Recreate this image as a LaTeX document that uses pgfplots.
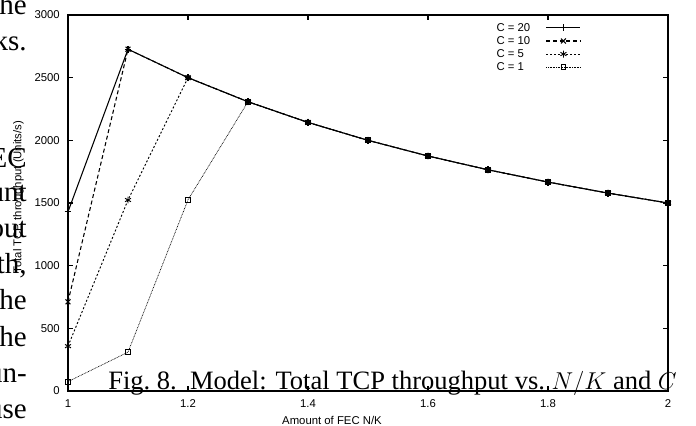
\documentclass[border=0pt]{standalone}
\usepackage{graphicx}
\usepackage{fontspec}
\setmainfont{Liberation Sans}
\newfontfamily\serif{Liberation Serif}
\usepackage{pgfplots}
\usepackage{pgfplotstable}
\pgfplotsset{compat=1.18}

\pgfplotstableread{
x   c20  c10  c5   c1
1.0 1430 712  358  75
1.1 2727 2727 1524 310
1.2 2500 2500 2500 1525
1.3 2308 2308 2308 2308
1.4 2143 2143 2143 2143
1.5 2000 2000 2000 2000
1.6 1875 1875 1875 1875
1.7 1765 1765 1765 1765
1.8 1667 1667 1667 1667
1.9 1579 1579 1579 1579
2.0 1500 1500 1500 1500
}\datatable

\newcommand\capmath[1]{\scalebox{0.88}{$#1$}}

\begin{document}
\begin{tikzpicture}
\useasboundingbox (0,0) rectangle (522pt,318.75pt);
\begin{axis}[
  at={(51pt,25.5pt)}, anchor=south west,
  scale only axis, width=450pt, height=282pt,
  xmin=1, xmax=2, ymin=0, ymax=3000,
  xtick={1,1.2,1.4,1.6,1.8,2},
  ytick={0,500,1000,1500,2000,2500,3000},
  scaled ticks=false,
  /pgf/number format/1000 sep={},
  /pgf/number format/assume math mode=true,
  tick label style={font=\fontsize{8.5}{10}\selectfont},
  yticklabel style={inner sep=0pt, anchor=east, xshift=-6pt},
  xticklabel style={inner sep=0pt, anchor=north, yshift=-6pt},
  major tick length=3.75pt,
  every tick/.style={black, line width=0.8pt},
  axis line style={line width=1pt},
  xlabel={Amount of FEC N/K},
  ylabel={Total TCP throughput (Units/s)},
  label style={font=\fontsize{8.5}{10}\selectfont},
  x label style={at={(axis description cs:0.44,-0.0771)}, anchor=center},
  y label style={at={(axis description cs:-0.0825,0.516)}, anchor=center},
  legend plot pos=right,
  legend cell align=left,
  legend image code/.code={\draw[mark repeat=2,mark phase=2,#1] plot coordinates {(0pt,0pt) (12.75pt,0pt) (25.5pt,0pt)};},
  legend style={at={(0.855,0.983)}, anchor=north east, draw=none, fill=none,
    font=\fontsize{8.5}{10}\selectfont, row sep=0pt, column sep=11pt,
    inner sep=0pt, outer sep=0pt,
    nodes={inner sep=0.75pt, text height=6.5pt, text depth=1.8pt}},
  mark size=2.6pt,
]
\addplot[black, line width=0.8pt, mark=+, mark options={solid}] table[x=x,y=c20] {\datatable};
\addlegendentry{C = 20}
\addplot[black, line width=0.8pt, dash pattern=on 3pt off 2pt, mark=x, mark options={solid}] table[x=x,y=c10] {\datatable};
\addlegendentry{C = 10}
\addplot[black, line width=0.7pt, dash pattern=on 1.5pt off 1.5pt, mark=asterisk, mark options={solid}] table[x=x,y=c5] {\datatable};
\addlegendentry{C = 5}
\addplot[black, line width=0.5pt, dash pattern=on 0.6pt off 0.6pt, mark=square, mark options={solid, line width=0.7pt, scale=0.7}] table[x=x,y=c1] {\datatable};
\addlegendentry{C = 1}
\end{axis}
\begin{scope}[x=0.75pt,y=0.75pt]
\node[anchor=base west, inner sep=0pt, font=\serif\fontsize{19.9}{22}\selectfont] at (108,36)
  {Fig.~8.\ \ Model: Total TCP throughput vs.\ \capmath{N/K} and \capmath{C}};
\begin{scope}[every node/.style={anchor=base east, inner sep=0pt, font=\serif\fontsize{21.75}{24}\selectfont}]
\node at (27,410) {the};
\node at (27,374) {works.};
\node at (27,257) {FEC};
\node at (27,223) {amount};
\node at (27,187) {about};
\node at (27,151) {with,};
\node at (27,115) {the};
\node at (27,79) {the};
\node at (27,43) {un-};
\node at (27,7) {because};
\end{scope}
\end{scope}
\end{tikzpicture}
\end{document}
